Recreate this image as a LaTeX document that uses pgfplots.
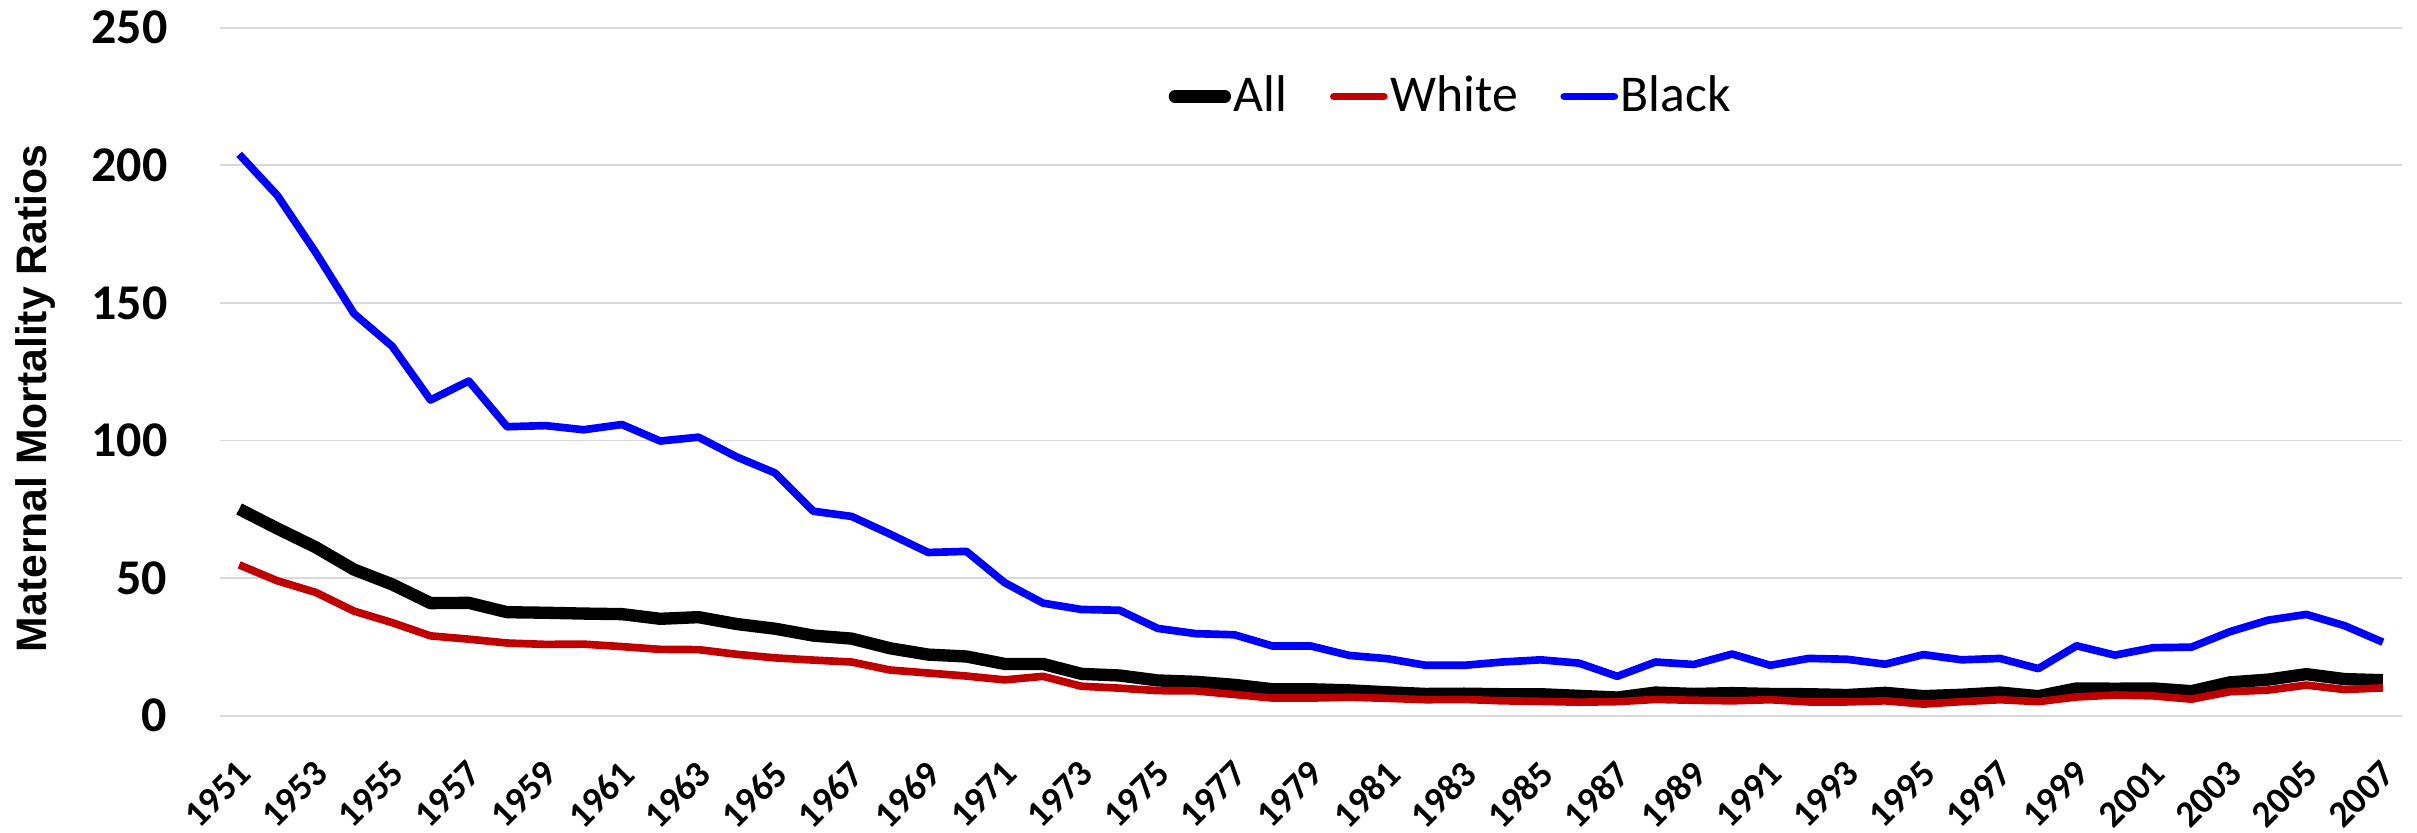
\documentclass[border=0pt]{standalone}
\usepackage{fontspec}
\setmainfont{Carlito}
\newfontfamily\arialfont{Liberation Sans}
\usepackage{pgfplots}
\pgfplotsset{compat=1.18}
\usepackage{pgfplotstable}
\definecolor{exred}{RGB}{192,0,0}
\definecolor{exblue}{RGB}{0,0,255}
\definecolor{gridgray}{RGB}{217,217,217}

\pgfplotstableread{
year all white black
1951 75.1 54.8 204.0
1952 68.0 49.0 189.0
1953 61.2 44.8 168.3
1954 53.1 38.0 146.1
1955 47.7 33.8 134.2
1956 40.9 29.0 114.7
1957 41.0 27.8 121.6
1958 37.6 26.4 105.0
1959 37.4 25.9 105.4
1960 37.1 26.0 103.9
1961 36.9 25.1 105.8
1962 35.2 24.1 99.8
1963 35.8 24.0 101.2
1964 33.3 22.3 94.0
1965 31.6 21.0 88.2
1966 29.1 20.2 74.3
1967 28.0 19.5 72.4
1968 24.5 16.6 66.0
1969 22.2 15.5 59.3
1970 21.5 14.4 59.7
1971 18.8 13.0 48.3
1972 18.8 14.3 40.9
1973 15.2 10.7 38.6
1974 14.6 10.0 38.3
1975 12.8 9.1 31.7
1976 12.3 9.0 29.8
1977 11.2 7.7 29.4
1978 9.6 6.4 25.3
1979 9.6 6.4 25.3
1980 9.2 6.7 21.9
1981 8.5 6.3 20.7
1982 7.9 5.8 18.3
1983 8.0 5.9 18.3
1984 7.8 5.4 19.5
1985 7.8 5.2 20.3
1986 7.2 4.9 19.1
1987 6.6 5.1 14.3
1988 8.4 5.9 19.5
1989 7.9 5.6 18.6
1990 8.2 5.4 22.4
1991 7.9 5.8 18.3
1992 7.8 5.0 20.8
1993 7.5 5.0 20.5
1994 8.3 5.4 18.7
1995 7.1 4.2 22.2
1996 7.6 5.1 20.3
1997 8.4 5.8 20.8
1998 7.1 5.1 17.1
1999 9.9 6.8 25.4
2000 9.8 7.5 22.0
2001 9.9 7.2 24.7
2002 8.9 6.0 24.9
2003 12.1 8.7 30.5
2004 13.1 9.3 34.7
2005 15.1 11.1 36.8
2006 13.3 9.5 32.7
2007 12.9 10.1 26.7
}\mmr

\begin{document}
\begin{tikzpicture}
\begin{axis}[
  name=ax, at={(0,0)}, anchor=south west,
  scale only axis, width=654.6pt, height=206.4pt,
  xmin=1950.5, xmax=2007.5, ymin=0, ymax=250,
  clip=false,
  xtick={1951,1953,...,2007}, ytick={0,50,...,250},
  axis line style={draw=none},
  major tick length=0pt,
  ymajorgrids, grid style={line width=0.55pt, color=gridgray},
  /pgf/number format/assume math mode=true,
  /pgf/number format/1000 sep={},
  yticklabel style={font=\fontsize{15}{18}\selectfont\bfseries, anchor=east, inner sep=0pt, xshift=-15.6pt},
  xticklabel style={font=\fontsize{11.2}{14}\selectfont\bfseries, xshift=-1pt, yshift=-12.6pt, rotate=45, anchor=north east, inner sep=0pt},
  legend style={at={(axis description cs:0.4345,0.90)}, anchor=west, draw=none, fill=none, inner sep=0pt,
    font=\fontsize{15.5}{18}\selectfont, nodes={inner sep=0.8pt},
    /tikz/every even column/.append style={column sep=12pt}},
  legend columns=3,
  legend image code/.code={\draw[#1, line cap=round] (1.6pt,0pt) -- (16.6pt,0pt);},
]
\addplot[black, line width=3.7pt, line join=round] table[x=year, y=all] {\mmr};
\addlegendentry{All}
\addplot[exred, line width=2.3pt, line join=round] table[x=year, y=white] {\mmr};
\addlegendentry{White}
\addplot[exblue, line width=2.3pt, line join=round] table[x=year, y=black] {\mmr};
\addlegendentry{Black}
\node[rotate=90, anchor=north, inner sep=0pt, font=\arialfont\bfseries\fontsize{12.8}{15}\selectfont] at (axis description cs:-0.09395,0.461) {Maternal Mortality Ratios};
\end{axis}
\pgfresetboundingbox
\path (-66pt,-35.1pt) rectangle (659.1pt,214.7pt);
\end{tikzpicture}
\end{document}
